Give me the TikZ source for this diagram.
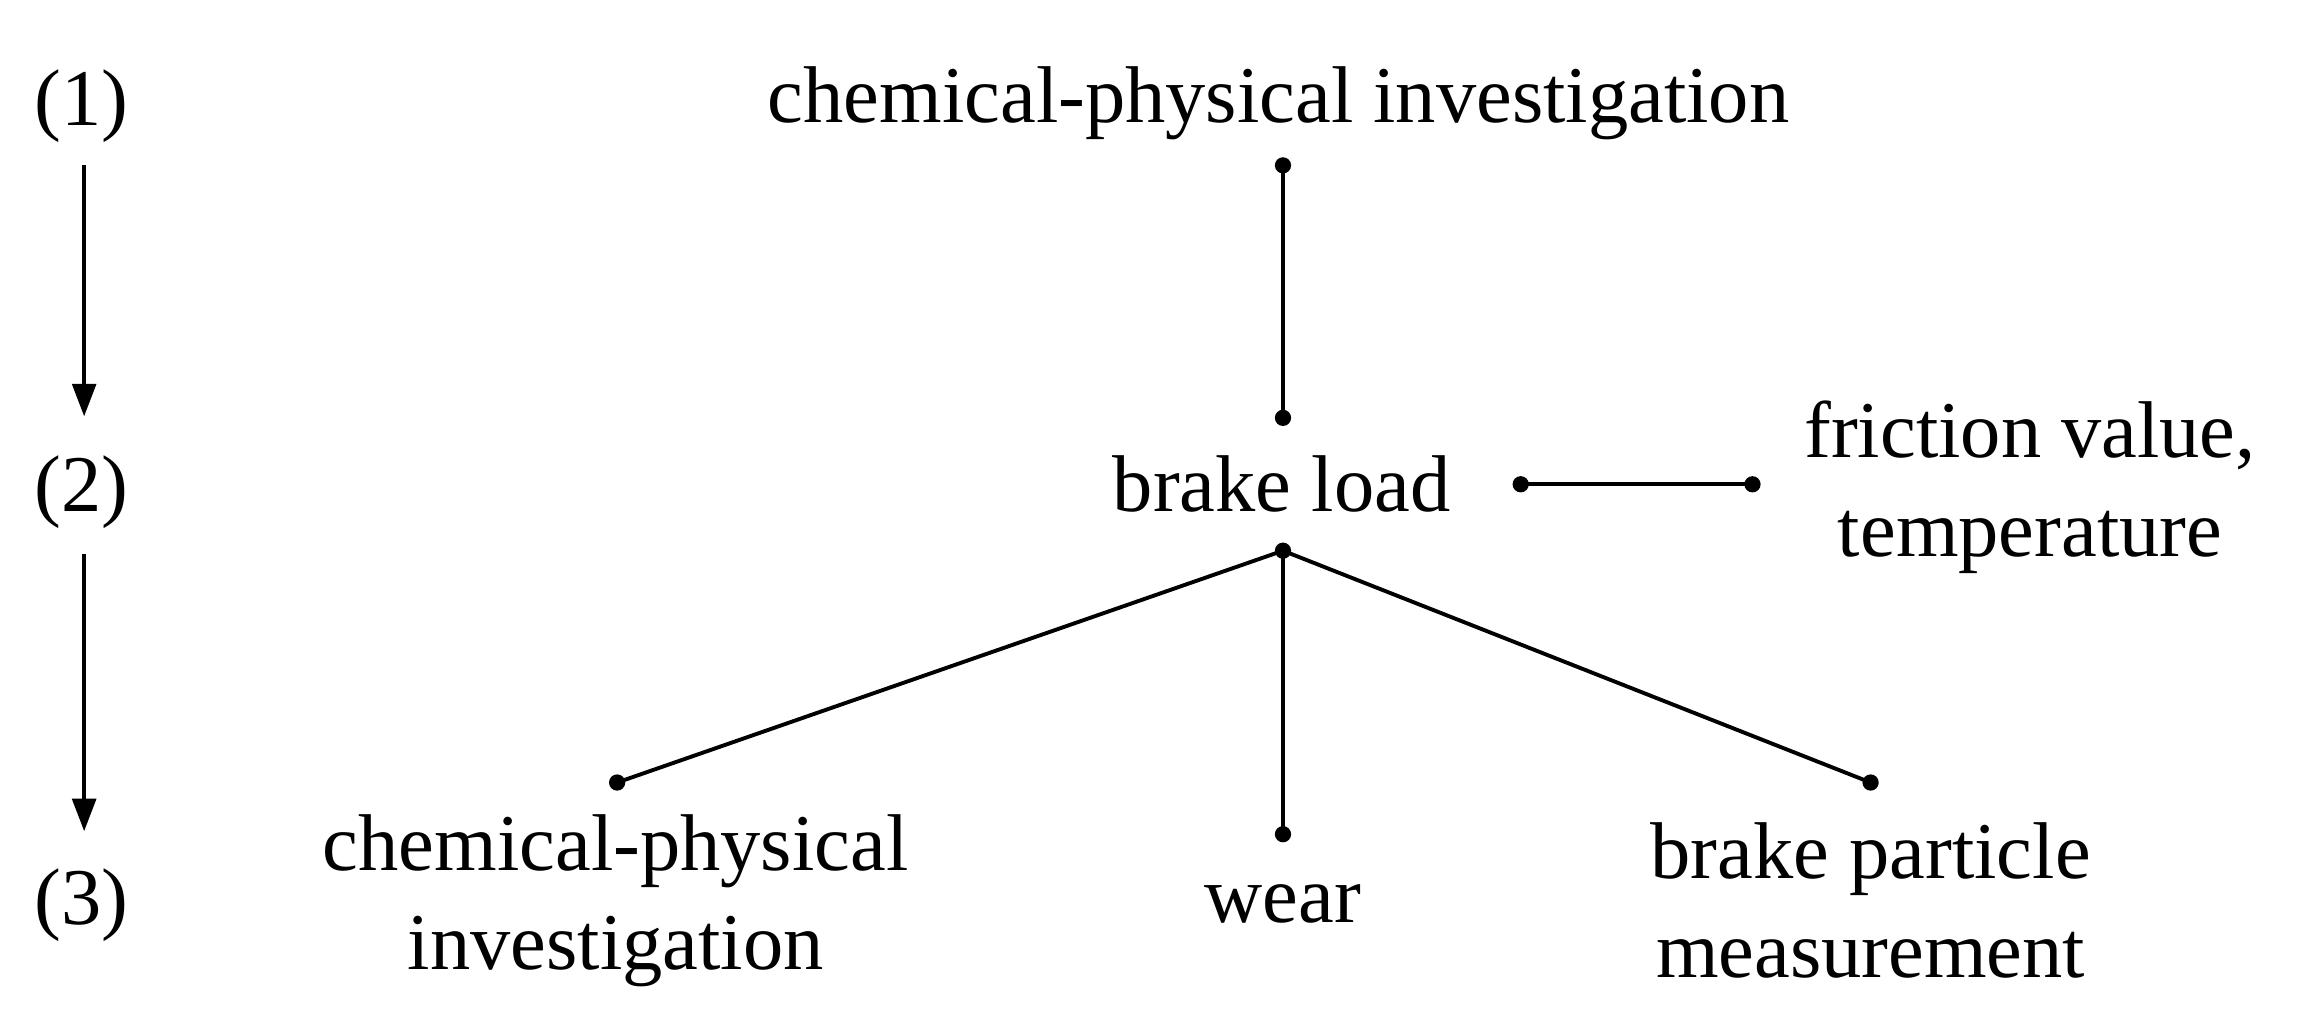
\documentclass[tikz,border=0pt]{standalone}
\usepackage{fontspec}
\setmainfont{Liberation Serif}
\usetikzlibrary{arrows.meta}
\begin{document}
\begin{tikzpicture}[x=0.01cm,y=-0.01cm,
  txt/.style={font=\fontsize{15.5}{19}\selectfont, inner sep=0pt, align=center},
  ln/.style={line width=0.75pt},
  dot/.style={circle,fill=black,inner sep=0pt,minimum size=0.11cm},
  arr/.style={line width=0.75pt,-{Triangle[length=0.22cm,width=0.16cm]}}]
\useasboundingbox (0,0) rectangle (1568,690);
\node[txt] (l1) at (55,72) {(1)};
\node[txt] (l2) at (55,333) {(2)};
\node[txt] (l3) at (55,613) {(3)};
\coordinate (a1) at (57,112); \coordinate (a1e) at (57,282);
\coordinate (a2) at (57,375); \coordinate (a2e) at (57,563);
\draw[arr] (a1) -- (a1e);
\draw[arr] (a2) -- (a2e);
\node[txt] (top) at (866,70) {chemical-physical investigation};
\node[txt] (bl) at (868,328) {brake load};
\node[txt] (fr) at (1375,330) {friction value,\\temperature};
\node[txt] (cp) at (417,610) {chemical-physical\\investigation};
\node[txt] (wr) at (869,612) {wear};
\node[txt] (bp) at (1267,610) {brake particle\\measurement};
\node[dot] (d1) at (869,112) {};
\node[dot] (d2) at (869,283) {};
\node[dot] (d3) at (869,373) {};
\node[dot] (d4) at (1030,328) {};
\node[dot] (d5) at (1187,328) {};
\node[dot] (d6) at (418,530) {};
\node[dot] (d7) at (869,565) {};
\node[dot] (d8) at (1267,530) {};
\draw[ln] (d1.center) -- (d2.center);
\draw[ln] (d4.center) -- (d5.center);
\draw[ln] (d3.center) -- (d6.center);
\draw[ln] (d3.center) -- (d7.center);
\draw[ln] (d3.center) -- (d8.center);
\end{tikzpicture}
\end{document}
